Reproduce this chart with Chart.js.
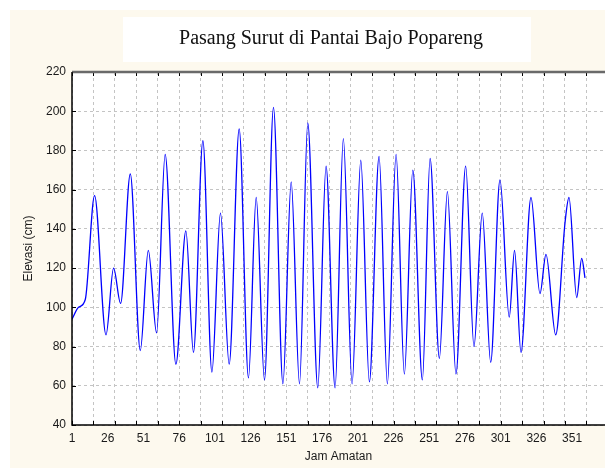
<!DOCTYPE html>
<html lang="id">
<head>
  <meta charset="utf-8" />
  <title>Pasang Surut di Pantai Bajo Popareng</title>
  <script src="https://cdn.jsdelivr.net/npm/chart.js@4.4.1/dist/chart.umd.min.js"></script>
  <style>
    html, body { margin: 0; padding: 0; background: #fff; }
    #wrap { width: 605px; height: 468px; position: relative; }
  </style>
</head>
<body>
<div id="wrap"><canvas id="tideChart"></canvas></div>

<script>
// Tide record: turning points (hour, elevation in cm)
const hours = [1, 5.6, 10.3, 16.8, 24.8, 30.1, 35, 41.8, 48.8, 54.4,
  60.2, 66.2, 73.7, 80.7, 86, 92.6, 98.9, 104.9, 111, 118,
  124.5, 129.9, 135.7, 142, 148.6, 154.4, 160.2, 166, 173, 178.8,
  185.1, 190.9, 197, 203.1, 209.1, 215.9, 221.7, 227.8, 233.6, 239.5,
  246.2, 251.6, 258.1, 263.7, 269.7, 276.5, 282.3, 288.1, 294, 300.5,
  307, 310.7, 315.2, 322.2, 328.5, 332.7, 339.5, 346, 348.8, 354.2,
  357.7, 360];
const elevasi = [94, 100, 104, 157, 86, 120, 102, 168, 78, 129,
  87, 178, 71, 139, 77, 185, 67, 148, 71, 191,
  64, 156, 63, 202, 61, 164, 61, 194, 59, 172,
  59, 186, 61, 175, 62, 177, 61, 178, 66, 170,
  63, 176, 74, 159, 66, 172, 80, 148, 72, 165,
  95, 129, 77, 156, 107, 127, 86, 143, 156, 105,
  125, 115];

// axis labels
const xTickValues = [1, 26, 51, 76, 101, 126, 151, 176, 201, 226, 251, 276, 301, 326, 351];
const yTickValues = [40, 60, 80, 100, 120, 140, 160, 180, 200, 220];
const chartTitle = 'Pasang Surut di Pantai Bajo Popareng';
const xTitle = 'Jam Amatan';
const yTitle = 'Elevasi (cm)';

// vertical grid lines every 15 hours (as in the original plot)
const xGridValues = [];
for (let h = 1; h <= 361; h += 15) xGridValues.push(h);

const CREAM = '#fdf9ee';

// background, title box and frame
const frame = {
  id: 'frame',
  beforeDraw(chart) {
    const { ctx, chartArea: a, width, height } = chart;
    ctx.save();
    ctx.fillStyle = '#ffffff';
    ctx.fillRect(0, 0, width, height);
    ctx.fillStyle = CREAM;
    ctx.fillRect(10, 10, width - 10, height - 10);
    ctx.fillStyle = '#ffffff';
    ctx.fillRect(a.left, a.top, a.right - a.left, a.bottom - a.top);
    // title box
    ctx.fillRect(123, 17, 408, 45);
    ctx.fillStyle = '#111';
    ctx.font = '20px "Liberation Serif", "DejaVu Serif", serif';
    ctx.textAlign = 'center';
    ctx.textBaseline = 'middle';
    ctx.fillText(chartTitle, 331, 39);
    ctx.restore();
  },
  afterDraw(chart) {
    const { ctx, chartArea: a } = chart;
    const xs = chart.scales.xg, ys = chart.scales.y;
    ctx.save();
    // inner tick marks
    ctx.strokeStyle = '#000';
    ctx.lineWidth = 1;
    ctx.beginPath();
    xGridValues.forEach(v => {
      const px = Math.round(xs.getPixelForValue(v)) + 0.5;
      ctx.moveTo(px, a.bottom); ctx.lineTo(px, a.bottom - 4);
      ctx.moveTo(px, a.top); ctx.lineTo(px, a.top + 4);
    });
    yTickValues.forEach(v => {
      const py = Math.round(ys.getPixelForValue(v)) + 0.5;
      ctx.moveTo(a.left, py); ctx.lineTo(a.left + 4, py);
    });
    ctx.stroke();
    // top border
    ctx.strokeStyle = '#6a6a6a';
    ctx.lineWidth = 2.5;
    ctx.beginPath();
    ctx.moveTo(a.left, a.top);
    ctx.lineTo(a.right, a.top);
    ctx.stroke();
    // left and bottom axes
    ctx.strokeStyle = '#000';
    ctx.lineWidth = 1.5;
    ctx.beginPath();
    ctx.moveTo(a.left, a.top);
    ctx.lineTo(a.left, a.bottom);
    ctx.lineTo(a.right, a.bottom);
    ctx.stroke();
    ctx.restore();
  }
};

const points = hours.map((h, i) => ({ x: h, y: elevasi[i] }));

const tickFont = { family: 'Arial, "Liberation Sans", sans-serif', size: 12 };

new Chart(document.getElementById('tideChart'), {
  type: 'line',
  data: {
    datasets: [{
      label: 'Elevasi',
      data: points,
      borderColor: '#0000ff',
      borderWidth: 1.3,
      pointRadius: 0,
      fill: false,
      cubicInterpolationMode: 'monotone',
      xAxisID: 'x',
      yAxisID: 'y'
    }]
  },
  options: {
    responsive: true,
    maintainAspectRatio: false,
    animation: false,
    layout: { padding: { top: 72, right: 0, bottom: 0, left: 0 } },
    plugins: {
      legend: { display: false },
      tooltip: { enabled: false }
    },
    scales: {
      x: {
        type: 'linear',
        position: 'bottom',
        min: 1,
        max: 374,
        afterBuildTicks: s => { s.ticks = xTickValues.map(v => ({ value: v })); },
        afterFit: s => { s.height = 43; },
        grid: { display: false, drawTicks: false },
        border: { display: false },
        ticks: {
          autoSkip: false,
          maxRotation: 0,
          padding: 6,
          color: '#1a1a1a',
          font: tickFont
        },
        title: {
          display: true,
          text: xTitle,
          color: '#1a1a1a',
          font: tickFont,
          padding: { top: 0, bottom: 4 }
        }
      },
      xg: {
        type: 'linear',
        position: 'top',
        min: 1,
        max: 374,
        afterBuildTicks: s => { s.ticks = xGridValues.map(v => ({ value: v })); },
        afterFit: s => { s.height = 0; },
        ticks: { display: false },
        grid: { drawTicks: false, color: '#c4c4c4', lineWidth: 1 },
        border: { display: false, dash: [3, 3] }
      },
      y: {
        type: 'linear',
        min: 40,
        max: 220,
        afterBuildTicks: s => { s.ticks = yTickValues.map(v => ({ value: v })); },
        afterFit: s => { s.width = 72; },
        grid: { drawTicks: false, color: '#c4c4c4', lineWidth: 1 },
        border: { display: false, dash: [3, 3] },
        ticks: {
          padding: 6,
          color: '#1a1a1a',
          font: tickFont
        },
        title: {
          display: true,
          text: yTitle,
          color: '#1a1a1a',
          font: tickFont,
          padding: { top: 21, bottom: 0 }
        }
      }
    }
  },
  plugins: [frame]
});
</script>
</body>
</html>
